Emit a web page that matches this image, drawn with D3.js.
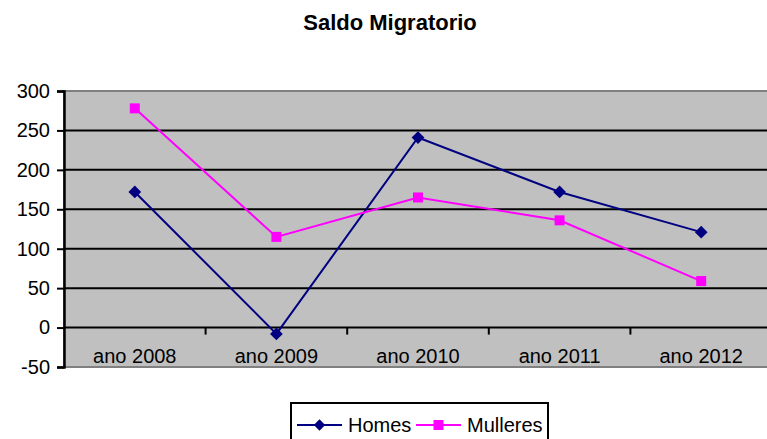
<!DOCTYPE html>
<html>
<head>
<meta charset="utf-8">
<script src="https://cdn.jsdelivr.net/npm/d3@7"></script>
<style>
  body { margin: 0; background: #fff; overflow: hidden; }
  svg { display: block; font-family: "Liberation Sans", Arial, sans-serif; }
</style>
</head>
<body>
<svg id="chart" width="767" height="439"></svg>
<script>
const categories = ["ano 2008", "ano 2009", "ano 2010", "ano 2011", "ano 2012"];
const homes = [172, -8, 241, 172, 121];
const mulleres = [278, 115, 165, 136, 59];
const yTicks = [-50, 0, 50, 100, 150, 200, 250, 300];

const svg = d3.select("#chart");
const plot = { left: 64, right: 772, top: 91, bottom: 367 };

const x = d3.scaleBand()
  .domain(categories)
  .range([plot.left, plot.right]);

const y = d3.scaleLinear()
  .domain([-50, 300])
  .range([plot.bottom, plot.top]);

// title
svg.append("text")
  .attr("x", 390)
  .attr("y", 30)
  .attr("text-anchor", "middle")
  .attr("font-weight", "bold")
  .attr("font-size", 22)
  .text("Saldo Migratorio");

// plot background
svg.append("rect")
  .attr("x", plot.left)
  .attr("y", plot.top)
  .attr("width", plot.right - plot.left)
  .attr("height", plot.bottom - plot.top)
  .attr("fill", "#c0c0c0")
  .attr("stroke", "#808080")
  .attr("stroke-width", 2);

// gridlines
svg.append("g")
  .selectAll("line")
  .data(yTicks.filter(d => d !== -50 && d !== 300))
  .enter().append("line")
  .attr("x1", plot.left)
  .attr("x2", plot.right)
  .attr("y1", d => y(d))
  .attr("y2", d => y(d))
  .attr("stroke", "#000")
  .attr("stroke-width", 2);

// y axis
const yAxis = svg.append("g")
  .attr("transform", `translate(${plot.left},0)`)
  .call(d3.axisLeft(y).tickValues(yTicks).tickFormat(d => String(d)).tickSize(7).tickPadding(7));
yAxis.select(".domain").attr("stroke-width", 2.5);
yAxis.selectAll(".tick line").attr("stroke-width", 2);
yAxis.selectAll("text")
  .attr("font-size", 20)
  .attr("font-family", "Liberation Sans, Arial, sans-serif")
  .attr("fill", "#000");

// x axis at zero with ticks between categories
const xAxis = svg.append("g")
  .attr("transform", `translate(0,${y(0)})`);
xAxis.selectAll("line")
  .data(categories.slice(1))
  .enter().append("line")
  .attr("x1", d => x(d))
  .attr("x2", d => x(d))
  .attr("y1", 0)
  .attr("y2", 7)
  .attr("stroke", "#000")
  .attr("stroke-width", 2);

svg.append("g")
  .selectAll("text")
  .data(categories)
  .enter().append("text")
  .attr("x", d => x(d) + x.bandwidth() / 2)
  .attr("y", plot.bottom - 4)
  .attr("text-anchor", "middle")
  .attr("font-size", 20)
  .text(d => d);

const cx = d => x(d) + x.bandwidth() / 2;

function drawSeries(values, color, shape) {
  const pts = categories.map((c, i) => [cx(c), y(values[i])]);
  svg.append("path")
    .datum(pts)
    .attr("fill", "none")
    .attr("stroke", color)
    .attr("stroke-width", 2)
    .attr("d", d3.line());
  svg.append("g")
    .selectAll("path")
    .data(pts)
    .enter().append("path")
    .attr("transform", d => `translate(${d[0]},${d[1]})` + (shape === "diamond" ? " rotate(45)" : ""))
    .attr("d", shape === "diamond" ? "M-4.5,-4.5H4.5V4.5H-4.5Z" : "M-5,-5H5V5H-5Z")
    .attr("fill", color);
}

drawSeries(homes, "#000080", "diamond");
drawSeries(mulleres, "#ff00ff", "square");

// legend
const legend = svg.append("g");
legend.append("rect")
  .attr("x", 291)
  .attr("y", 403)
  .attr("width", 257)
  .attr("height", 40)
  .attr("fill", "#fff")
  .attr("stroke", "#000")
  .attr("stroke-width", 2);

const legendItems = [
  { name: "Homes", color: "#000080", shape: "diamond", x: 297 },
  { name: "Mulleres", color: "#ff00ff", shape: "square", x: 416 }
];
legendItems.forEach(it => {
  legend.append("line")
    .attr("x1", it.x).attr("x2", it.x + 45)
    .attr("y1", 425).attr("y2", 425)
    .attr("stroke", it.color).attr("stroke-width", 2);
  legend.append("path")
    .attr("transform", `translate(${it.x + 22.5},425)` + (it.shape === "diamond" ? " rotate(45)" : ""))
    .attr("d", it.shape === "diamond" ? "M-4,-4H4V4H-4Z" : "M-5,-5H5V5H-5Z")
    .attr("fill", it.color);
  legend.append("text")
    .attr("x", it.x + 51)
    .attr("y", 432)
    .attr("font-size", 20)
    .text(it.name);
});
</script>
</body>
</html>
